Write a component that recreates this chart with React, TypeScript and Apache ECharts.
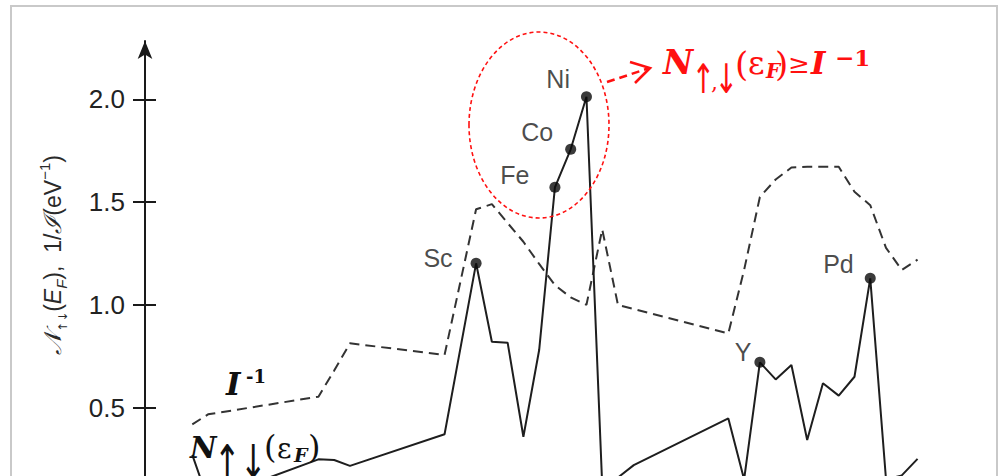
import { useEffect, useRef } from 'react';
import * as echarts from 'echarts';

// Elements along the horizontal axis (atomic number) and their values
const elements = ['Li', 'Be', 'Na', 'Mg', 'Al', 'K', 'Sc', 'Ti', 'V', 'Cr', 'Mn', 'Fe', 'Co', 'Ni', 'Cu', 'Zn', 'Ga', 'Rb', 'Sr', 'Y', 'Zr', 'Nb', 'Mo', 'Tc', 'Ru', 'Rh', 'Pd', 'Ag', 'Cd', 'In'];
const atomicNumber = [3, 4, 11, 12, 13, 19, 21, 22, 23, 24, 25, 26, 27, 28, 29, 30, 31, 37, 38, 39, 40, 41, 42, 43, 44, 45, 46, 47, 48, 49];
// Density of states at the Fermi level, N(E_F) (eV^-1)
const dosAtFermi = [0.27, 0.05, 0.248, 0.245, 0.216, 0.37, 1.202, 0.82, 0.816, 0.358, 0.78, 1.572, 1.757, 2.013, 0.12, 0.16, 0.22, 0.447, 0.15, 0.72, 0.637, 0.707, 0.342, 0.618, 0.558, 0.65, 1.129, 0.15, 0.17, 0.25];
// Inverse Stoner parameter, 1/I (eV^-1)
const inverseStoner = [0.418, 0.467, 0.553, 0.68, 0.813, 0.756, 1.465, 1.49, 1.398, 1.307, 1.199, 1.096, 1.036, 1.0, 1.367, 0.999, 0.98, 0.861, 1.17, 1.525, 1.61, 1.668, 1.672, 1.672, 1.672, 1.55, 1.485, 1.277, 1.17, 1.22];
// Elements highlighted with a dot and a name
const markedElements = ['Sc', 'Fe', 'Co', 'Ni', 'Y', 'Pd'];
const yTicks = [0.5, 1.0, 1.5, 2.0];

// Label placement next to each highlighted dot
const labelPlacement: Record<string, { distance: number; dy: number }> = {
  Sc: { distance: 18, dy: -5 },
  Fe: { distance: 20, dy: -12 },
  Co: { distance: 12, dy: -17 },
  Ni: { distance: 11, dy: -18 },
  Y: { distance: 3, dy: -10 },
  Pd: { distance: 11, dy: -14 },
};

const RED = '#ff1010';
const INK = '#111';

type TextOpts = {
  size: number;
  family?: string;
  italic?: boolean;
  bold?: boolean;
  fill?: string;
  align?: 'left' | 'center' | 'right';
  scaleX?: number;
  scaleY?: number;
};

function txt(x: number, y: number, text: string, o: TextOpts) {
  const align = o.align || 'left';
  return {
    type: 'text',
    x,
    y,
    z: 10,
    scaleX: o.scaleX ?? 1,
    scaleY: o.scaleY ?? 1,
    style: {
      text,
      fill: o.fill || INK,
      fontSize: o.size,
      fontFamily: o.family || 'DejaVu Serif',
      fontStyle: o.italic ? 'italic' : 'normal',
      fontWeight: o.bold ? 'bold' : 'normal',
      align,
      textAlign: align,
      verticalAlign: 'middle',
      textVerticalAlign: 'middle',
    },
  };
}

export default function App() {
  const ref = useRef<HTMLDivElement>(null);

  useEffect(() => {
    if (!ref.current) return;
    document.body.style.margin = '0';
    const chart = echarts.init(ref.current, undefined, { renderer: 'svg' });

    const lineData = (vals: number[]) => atomicNumber.map((z, i) => [z, vals[i]]);

    const dots = markedElements.map((name) => {
      const i = elements.indexOf(name);
      const p = labelPlacement[name];
      return {
        name,
        value: [atomicNumber[i], dosAtFermi[i]],
        label: { distance: p.distance, offset: [0, p.dy] },
      };
    });

    const tickFormatter = (v: number) =>
      Math.abs(v * 2 - Math.round(v * 2)) < 1e-6 ? v.toFixed(1) : '';

    const axisTitle =
      '{cal|𝒩}{arr|↑↓}{rm|(}{it|E}{sub|F}{rm|),  1/}{cal|ℐ}{rm|(eV}{sup|−1}{rm|)}';

    const option: any = {
      animation: false,
      backgroundColor: '#fff',
      grid: { left: 145, right: 32, top: 41, bottom: 9.7, outerBoundsMode: 'none' },
      xAxis: { type: 'value', min: 0, max: 52.2, show: false },
      yAxis: [
        {
          type: 'value',
          min: 0,
          max: 2.284,
          interval: 0.5,
          position: 'left',
          axisLine: {
            show: true,
            symbol: ['none', 'arrow'],
            symbolSize: [11, 18],
            lineStyle: { color: '#1a1a1a', width: 2 },
          },
          axisTick: {
            show: true,
            length: 12,
            customValues: yTicks,
            lineStyle: { color: '#1a1a1a', width: 2 },
          },
          axisLabel: {
            show: true,
            customValues: yTicks,
            formatter: tickFormatter,
            margin: 20,
            fontSize: 26,
            fontFamily: 'Liberation Sans',
            color: '#222',
          },
          splitLine: { show: false },
        },
        {
          type: 'value',
          min: 0,
          max: 2.284,
          interval: 0.5,
          position: 'left',
          axisLine: { show: false },
          axisTick: {
            show: true,
            inside: true,
            length: 11,
            customValues: yTicks,
            lineStyle: { color: '#1a1a1a', width: 2 },
          },
          axisLabel: { show: false },
          splitLine: { show: false },
        },
      ],
      series: [
        {
          name: '1/I',
          type: 'line',
          data: lineData(inverseStoner),
          symbol: 'none',
          lineStyle: { color: '#333', width: 2, type: [10, 6] },
          z: 2,
        },
        {
          name: 'N(E_F)',
          type: 'line',
          data: lineData(dosAtFermi),
          symbol: 'none',
          lineStyle: { color: '#1e1e1e', width: 2 },
          z: 3,
        },
        {
          name: 'marked',
          type: 'scatter',
          data: dots,
          symbolSize: 11,
          itemStyle: { color: '#0a0a0a' },
          label: {
            show: true,
            position: 'left',
            formatter: '{b}',
            fontSize: 25,
            fontFamily: 'Liberation Sans',
            color: '#1c1c1c',
          },
          z: 4,
        },
      ],
      graphic: [
        // outer frame
        {
          type: 'rect',
          z: 0,
          shape: { x: 11, y: 6, width: 986, height: 560 },
          style: { fill: 'transparent', stroke: '#c9c9c9', lineWidth: 2 },
        },
        // vertical axis title
        {
          type: 'text',
          x: 53,
          y: 255,
          rotation: Math.PI / 2,
          z: 10,
          style: {
            text: axisTitle,
            align: 'center',
            textAlign: 'center',
            verticalAlign: 'middle',
            textVerticalAlign: 'middle',
            fill: '#2a2a2a',
            rich: {
              cal: { fontFamily: 'DejaVu Serif', fontStyle: 'italic', fontSize: 24, lineHeight: 32 },
              rm: { fontFamily: 'Liberation Sans', fontSize: 23, lineHeight: 32 },
              it: { fontFamily: 'Liberation Sans', fontStyle: 'italic', fontSize: 23, lineHeight: 32 },
              sub: { fontFamily: 'Liberation Sans', fontStyle: 'italic', fontSize: 15, lineHeight: 15, verticalAlign: 'bottom' },
              arr: { fontFamily: 'DejaVu Sans', fontSize: 12, lineHeight: 14, verticalAlign: 'bottom' },
              sup: { fontFamily: 'Liberation Sans', fontSize: 15, lineHeight: 15, verticalAlign: 'top' },
            },
          },
        },
        // dashed ellipse around the ferromagnets
        {
          type: 'ellipse',
          z: 9,
          shape: { cx: 539, cy: 125, rx: 70, ry: 93 },
          style: { fill: 'transparent', stroke: RED, lineWidth: 1.6, lineDash: [4, 3] },
        },
        {
          type: 'line',
          z: 9,
          shape: { x1: 607, y1: 82, x2: 648, y2: 68.5 },
          style: { stroke: RED, lineWidth: 2.6, lineDash: [8, 5] },
        },
        {
          type: 'polyline',
          z: 9,
          shape: { points: [[630, 62], [650, 68], [635, 83]] },
          style: { fill: 'transparent', stroke: RED, lineWidth: 2.6 },
        },
        // Stoner criterion
        txt(663, 62, 'N', { size: 33, bold: true, italic: true, fill: RED }),
        txt(703.5, 79, '↑', { size: 28, family: 'DejaVu Sans', fill: RED, align: 'center', scaleY: 1.45 }),
        txt(711, 82, ',', { size: 22, fill: RED }),
        txt(726.5, 79, '↓', { size: 28, family: 'DejaVu Sans', fill: RED, align: 'center', scaleY: 1.45 }),
        txt(735, 64, '(', { size: 34, fill: RED }),
        txt(748, 62.5, 'ε', { size: 32, fill: RED }),
        txt(766, 71, 'F', { size: 20, bold: true, italic: true, fill: RED }),
        txt(775, 64, ')', { size: 34, fill: RED }),
        txt(799, 64, '≥', { size: 26, fill: RED, align: 'center' }),
        txt(811, 62.5, 'I', { size: 31, bold: true, italic: true, fill: RED }),
        txt(835, 57, '−1', { size: 23, bold: true, fill: RED }),
        // curve names
        txt(226, 384, 'I', { size: 31, bold: true, italic: true }),
        txt(246, 376.5, '-1', { size: 18, bold: true }),
        txt(190, 448, 'N', { size: 29, bold: true, italic: true }),
        txt(227.5, 462, '↑', { size: 32, family: 'DejaVu Sans', align: 'center', scaleY: 1.45 }),
        txt(238, 474, ',', { size: 22 }),
        txt(253.5, 462, '↓', { size: 32, family: 'DejaVu Sans', align: 'center', scaleY: 1.45 }),
        txt(264, 447, '(', { size: 32 }),
        txt(277, 448, 'ε', { size: 28 }),
        txt(294, 455, 'F', { size: 19, bold: true, italic: true }),
        txt(308, 447, ')', { size: 32 }),
      ],
    };

    chart.setOption(option);
    return () => chart.dispose();
  }, []);

  return (
    <div
      ref={ref}
      style={{ position: 'fixed', left: 0, top: 0, width: 1000, height: 520, background: '#fff' }}
    />
  );
}
